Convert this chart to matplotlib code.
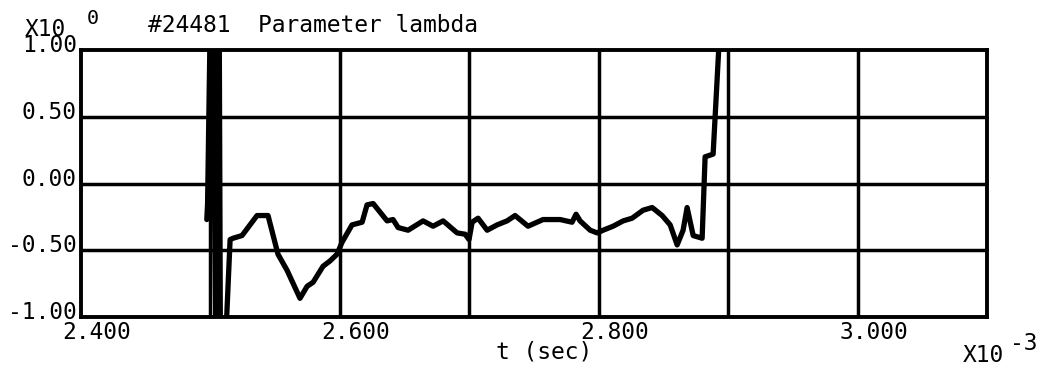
import matplotlib
matplotlib.use("Agg")
import matplotlib.pyplot as plt
import matplotlib.transforms as mtransforms

# t in units of 1e-3 s, lambda in units of 1e0
t_vals = [2.4972, 2.4978, 2.5010, 2.5050, 2.5065, 2.5080,
          2.5152, 2.5175, 2.5244, 2.5360, 2.5445, 2.5522, 2.5592, 2.5692,
          2.5747, 2.5793, 2.5870, 2.5924, 2.5978, 2.6017, 2.6094, 2.6172,
          2.6210, 2.6257, 2.6365, 2.6411, 2.6450, 2.6527, 2.6643, 2.6720,
          2.6798, 2.6906, 2.6968, 2.6998, 2.7022, 2.7068, 2.7138, 2.7215,
          2.7292, 2.7354, 2.7454, 2.7570, 2.7702, 2.7794, 2.7825, 2.7856,
          2.7934, 2.7988, 2.8034, 2.8111, 2.8189, 2.8258, 2.8343, 2.8413,
          2.8490, 2.8552, 2.8606, 2.8652, 2.8683, 2.8730, 2.8799, 2.8822,
          2.8884, 2.8960]
lam_vals = [-0.27, -0.15, 2.0, -2.0, 2.0, -2.0,
            -0.42, -0.41, -0.39, -0.24, -0.24, -0.53, -0.65, -0.86,
            -0.77, -0.74, -0.62, -0.58, -0.53, -0.44, -0.31, -0.29,
            -0.16, -0.15, -0.28, -0.27, -0.33, -0.35, -0.28, -0.32,
            -0.28, -0.37, -0.38, -0.42, -0.29, -0.26, -0.35, -0.31,
            -0.28, -0.24, -0.32, -0.27, -0.27, -0.29, -0.23, -0.28,
            -0.35, -0.37, -0.35, -0.32, -0.28, -0.26, -0.20, -0.18,
            -0.24, -0.31, -0.46, -0.35, -0.18, -0.39, -0.41, 0.20,
            0.22, 1.6]

x_ticks = [2.4, 2.6, 2.8, 3.0]
x_ticklabels = ["2.400", "2.600", "2.800", "3.000"]
x_grid = [2.5, 2.6, 2.7, 2.8, 2.9, 3.0]
y_ticks = [-1.0, -0.5, 0.0, 0.5, 1.0]
y_ticklabels = ["-1.00", "-0.50", "0.00", "0.50", "1.00"]

plt.rcParams['font.family'] = ['DejaVu Sans Mono', 'DejaVu Sans']
FS = 16.5

W, H = 1045, 368
fig = plt.figure(figsize=(W / 100, H / 100), dpi=100, facecolor='white')
ax = fig.add_axes([81 / W, 1 - 317 / H, (987 - 81) / W, (317 - 50) / H])

for xg in x_grid:
    ax.axvline(xg, color='black', lw=2.5, zorder=1)
for yg in [-0.5, 0.0, 0.5]:
    ax.axhline(yg, color='black', lw=2.5, zorder=1)

ax.plot(t_vals, lam_vals, color='black', lw=3.8, solid_joinstyle='round',
        solid_capstyle='round', zorder=3)

ax.set_xlim(2.4, 3.1)
ax.set_ylim(-1.0, 1.0)
for sp in ax.spines.values():
    sp.set_linewidth(2.8)

ax.set_xticks(x_ticks)
ax.set_xticklabels(x_ticklabels, fontsize=FS)
ax.set_yticks(y_ticks)
ax.set_yticklabels(y_ticklabels, fontsize=FS)
ax.tick_params(axis='both', length=0)
ax.tick_params(axis='x', pad=3)
ax.tick_params(axis='y', pad=3)

# shift labels like the plotter output
dx = mtransforms.ScaledTranslation(16 / 100, 0, fig.dpi_scale_trans)
for lb in ax.get_xticklabels():
    lb.set_transform(lb.get_transform() + dx)
dy = mtransforms.ScaledTranslation(0, 7 / 100, fig.dpi_scale_trans)
for lb in ax.get_yticklabels():
    lb.set_transform(lb.get_transform() + dy)

# header texts
fig.text(25 / W, 1 - 30 / H, "X10", fontsize=FS, va='center', ha='left')
fig.text(87 / W, 1 - 18 / H, "0", fontsize=FS - 2, va='center', ha='left')
fig.text(148 / W, 1 - 26 / H, "#24481  Parameter lambda", fontsize=FS,
         va='center', ha='left')

# x-axis label and multiplier
fig.text(496 / W, 1 - 352 / H, "t (sec)", fontsize=FS, va='center', ha='left')
fig.text(963 / W, 1 - 356 / H, "X10", fontsize=FS, va='center', ha='left')
fig.text(1010 / W, 1 - 343 / H, "-3", fontsize=FS, va='center', ha='left')

fig.savefig("out.png", dpi=100, facecolor='white')
